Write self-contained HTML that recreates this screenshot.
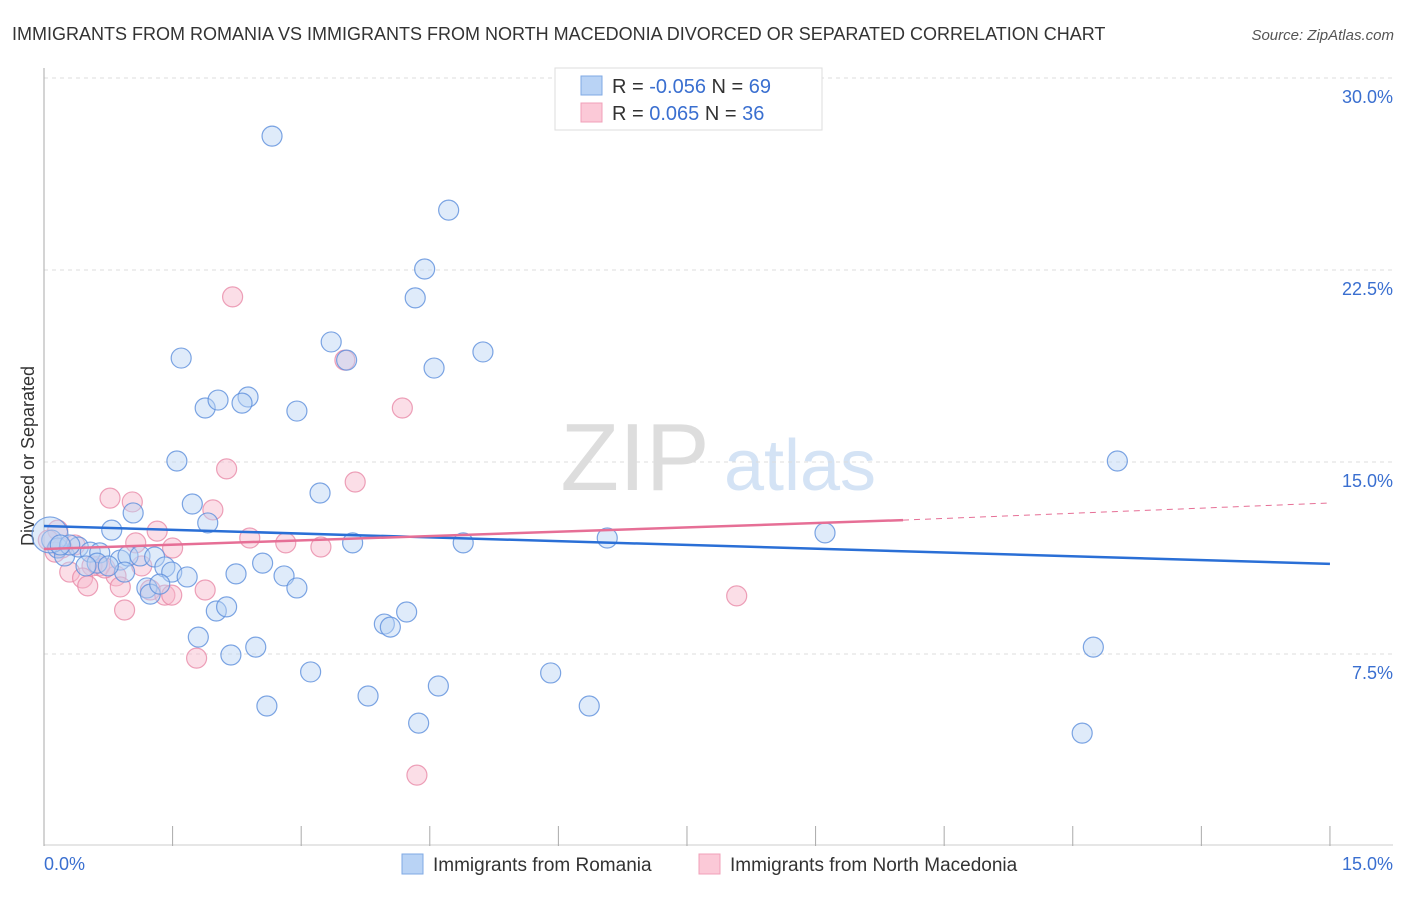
<!DOCTYPE html>
<html><head><meta charset="utf-8"><style>
body{margin:0;background:#fff;font-family:"Liberation Sans",sans-serif}
svg text{font-family:"Liberation Sans",sans-serif}
</style></head><body>
<svg id="c" width="1406" height="892">
<text x="12" y="40" font-size="18" fill="#333">IMMIGRANTS FROM ROMANIA VS IMMIGRANTS FROM NORTH MACEDONIA DIVORCED OR SEPARATED CORRELATION CHART</text>
<text x="1394" y="40" font-size="15" fill="#555" font-style="italic" text-anchor="end">Source: ZipAtlas.com</text>
<text x="34" y="456" font-size="18" fill="#333" text-anchor="middle" transform="rotate(-90 34 456)">Divorced or Separated</text>
<g><text x="635" y="490" font-size="96" fill="#ddd" font-family="Liberation Serif" text-anchor="middle">ZIP</text><text x="800" y="490" font-size="72" fill="#d4e3f5" text-anchor="middle">atlas</text></g>
<g id="grid"></g><g id="marks"></g>
<g>
<rect x="555" y="68" width="267" height="62" fill="#fff" stroke="#ddd"/>
<rect x="581" y="76" width="21" height="19" fill="#b9d3f5" stroke="#7fa9e4"/>
<rect x="581" y="103" width="21" height="19" fill="#fbc9d7" stroke="#f0a0b8"/>
<text x="612" y="93" font-size="20" fill="#333">R = <tspan fill="#3a6fd0">-0.056</tspan>   N = <tspan fill="#3a6fd0">69</tspan></text>
<text x="612" y="120" font-size="20" fill="#333">R =   <tspan fill="#3a6fd0">0.065</tspan>   N = <tspan fill="#3a6fd0">36</tspan></text>
</g>
<g>
<rect x="402" y="854" width="21" height="20" fill="#b9d3f5" stroke="#7fa9e4"/>
<text x="433" y="871" font-size="19" fill="#333">Immigrants from Romania</text>
<rect x="699" y="854" width="21" height="20" fill="#fbc9d7" stroke="#f0a0b8"/>
<text x="730" y="871" font-size="19" fill="#333">Immigrants from North Macedonia</text>
</g>
</svg>
<script>
const yTicks=[7.5,15,22.5,30];
const yTickLabels=["7.5%","15.0%","22.5%","30.0%"];
const xTickLabels=["0.0%","15.0%"];
const blueX=[2.66,4.72,4.44,4.33,1.60,3.35,3.53,5.12,4.55,1.88,2.03,2.38,2.31,2.95,1.55,12.52,3.22,1.73,1.04,1.91,0.79,9.11,6.57,4.89,3.60,0.09,0.16,0.24,0.40,0.54,0.65,0.89,0.98,1.12,1.29,1.41,1.49,1.67,0.94,0.62,0.75,0.49,2.55,2.24,2.80,2.95,1.20,1.24,1.35,2.01,2.13,4.23,3.97,4.04,1.80,2.47,2.18,12.24,3.11,5.91,4.60,3.78,2.60,6.36,4.37,12.11,0.07,0.30,0.19];
const blueY=[27.73,24.84,22.54,21.41,19.06,19.69,18.98,19.30,18.67,17.11,17.42,17.54,17.30,16.99,15.04,15.04,13.79,13.36,13.01,12.62,12.34,12.23,12.03,11.84,11.84,11.95,11.64,11.33,11.68,11.48,11.45,11.17,11.33,11.33,11.29,10.90,10.70,10.51,10.70,11.05,10.94,10.94,11.05,10.63,10.55,10.08,10.08,9.84,10.23,9.18,9.34,9.14,8.67,8.55,8.16,7.77,7.46,7.77,6.80,6.76,6.25,5.86,5.47,5.47,4.80,4.41,12.15,11.76,11.76];
const pinkX=[2.20,3.51,4.18,2.13,3.63,0.77,1.03,1.97,1.32,2.40,2.82,3.23,1.07,0.16,0.36,0.65,0.56,0.30,0.45,0.51,0.84,0.89,1.14,1.24,1.41,1.49,1.88,0.94,1.78,8.08,4.35,0.05,0.21,0.71,0.13,1.50];
const pinkY=[21.45,18.98,17.11,14.73,14.22,13.59,13.44,13.13,12.30,12.03,11.84,11.68,11.84,12.34,11.76,10.94,10.94,10.70,10.47,10.16,10.55,10.12,10.94,10.00,9.80,9.80,10.00,9.22,7.34,9.77,2.77,11.95,11.64,10.86,11.48,11.64];
const blueTrend=[[0,12.50],[15,11.02]];
const pinkTrend=[[0,11.60],[10.02,12.73]];
const pinkTrendExt=[[10.02,12.73],[15,13.4]];
const NS="http://www.w3.org/2000/svg";
const X=v=>44+v*85.73, Y=v=>846-v*25.6;
function mk(t,a,p){const e=document.createElementNS(NS,t);for(const k in a)e.setAttribute(k,a[k]);p.appendChild(e);return e;}
const g=document.getElementById('grid'),m=document.getElementById('marks');
yTicks.forEach((t,i)=>{
 const l=mk('line',{x1:44,x2:1393,y1:Y(t),y2:Y(t),stroke:'#ddd','stroke-dasharray':'4,4'},g);
 
 
 const tx=mk('text',{x:1393,y:Y(t)+25,'font-size':18,fill:'#3a6fd0','text-anchor':'end'},g);
 tx.textContent=yTickLabels[i];
 
 
});
const ax=mk('line',{x1:44,x2:44,y1:68,y2:846,stroke:'#aaa'},g);


const bx=mk('line',{x1:44,x2:1393,y1:845,y2:845,stroke:'#ccc'},g);


for(let i=0;i<=10;i++){const t=mk('line',{x1:X(i*1.5),x2:X(i*1.5),y1:826,y2:846,stroke:'#aaa'},g);
 
 }
[[0,'start',44],[15,'end',1393]].forEach((d,i)=>{const t=mk('text',{x:d[2],y:870,'font-size':18,fill:'#3a6fd0','text-anchor':d[1]},g);t.textContent=xTickLabels[i];
 
 });
function pts(xs,ys,fill,stroke,name){xs.forEach((x,i)=>{const r=(name==='blue-point'&&i===66)?18:10;
 const c=mk('circle',{cx:X(x),cy:Y(ys[i]),r:r,fill:fill,'fill-opacity':0.45,stroke:stroke,'stroke-opacity':0.8,'stroke-width':1.2},m);
 
 });}
pts(pinkX,pinkY,'#f7b6c9','#e98aa8','pink-point');
pts(blueX,blueY,'#b9d3f5','#5c8fdc','blue-point');
function ln(p,col,w,dash,name){const l=mk('line',{x1:X(p[0][0]),y1:Y(p[0][1]),x2:X(p[1][0]),y2:Y(p[1][1]),stroke:col,'stroke-width':w},m);
 if(dash)l.setAttribute('stroke-dasharray',dash);
 
 }
ln(blueTrend,'#2a6fd6',2.5,null,'romania-trend-line');
ln(pinkTrend,'#e66f96',2.5,null,'macedonia-trend-line');
ln(pinkTrendExt,'#e66f96',1,'6,5','macedonia-trend-extension');
</script>
</body></html>
